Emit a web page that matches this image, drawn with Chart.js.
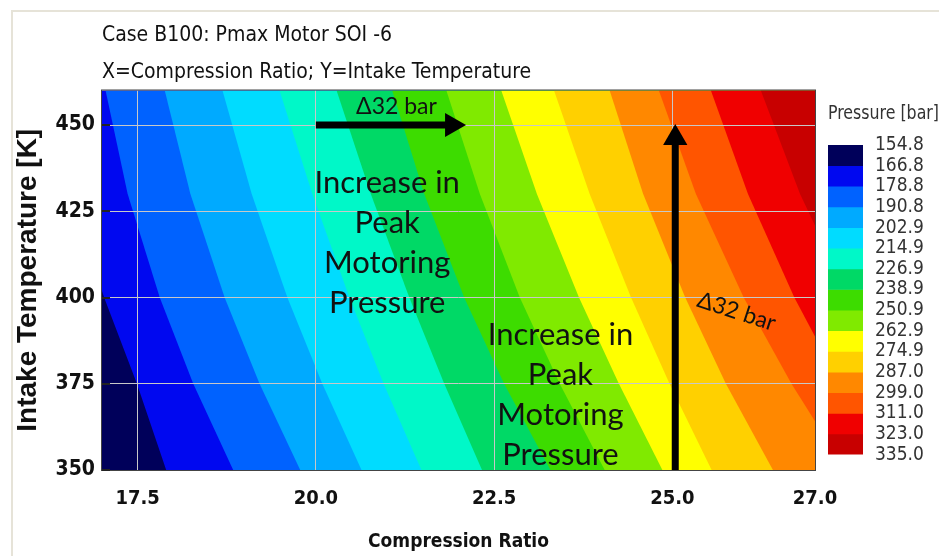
<!DOCTYPE html>
<html>
<head>
<meta charset="utf-8">
<script src="https://cdn.jsdelivr.net/npm/chart.js@4.4.1/dist/chart.umd.min.js"></script>
<style>
  html, body { margin: 0; padding: 0; background: #fff; }
  #wrap { position: relative; width: 939px; height: 556px; overflow: hidden; }
  #frame { position: absolute; left: 11px; top: 10px; right: 0; bottom: 0;
           border-left: 2px solid #e6e3d8; border-top: 2px solid #e6e3d8; }
  #main { position: absolute; left: 0; top: 0; }
  #bar { position: absolute; left: 820px; top: 90px; }
</style>
</head>
<body>
<div id="wrap">
  <div id="frame"></div>
  <canvas id="main" width="939" height="556"></canvas>
  <canvas id="bar" width="119" height="380"></canvas>
</div>
<script>
// contour levels of the colour bar
var pressureLevels = [154.8, 166.8, 178.8, 190.8, 202.9, 214.9, 226.9, 238.9, 250.9,
                      262.9, 274.9, 287.0, 299.0, 311.0, 323.0, 335.0];
var pressureColors = ['#00005a', '#0008f0', '#0062ff', '#00aaff', '#00dcff', '#00f8c8',
                      '#00d966', '#3ddc00', '#80ea00', '#ffff00', '#ffd000', '#ff8800',
                      '#ff5500', '#f00000', '#c80000'];

// intake temperatures where the contour lines were read
var tempLevels = [460, 430, 400, 375, 350];
// compression ratio of each contour line (levels 166.8 ... 323.0) at those temperatures
var contourX = [
  [16.10, 16.55, 17.03, 17.49, 17.90],
  [17.05, 17.36, 17.81, 18.28, 18.84],
  [17.88, 18.24, 18.72, 19.21, 19.78],
  [18.69, 19.10, 19.60, 20.09, 20.64],
  [19.49, 19.95, 20.47, 20.95, 21.48],
  [20.29, 20.77, 21.31, 21.80, 22.33],
  [21.07, 21.52, 22.08, 22.64, 23.29],
  [21.83, 22.30, 22.86, 23.42, 24.05],
  [22.60, 23.10, 23.69, 24.25, 24.86],
  [23.34, 23.84, 24.42, 24.96, 25.55],
  [24.12, 24.59, 25.18, 25.75, 26.41],
  [24.81, 25.33, 26.00, 26.67, 27.43],
  [25.54, 26.06, 26.71, 27.35, 28.08],
  [26.24, 26.79, 27.48, 28.14, 28.90]
];

var xTicks = [17.5, 20.0, 22.5, 25.0, 27.0];
var yTicks = [350, 375, 400, 425, 450];

// arrows and notes drawn over the map
var arrowH = [{x: 20.0, y: 450}, {x: 21.91, y: 450}];
var arrowV = [{x: 25.04, y: 350}, {x: 25.04, y: 446.2}];
var notes = [
  {lines: ['Increase in', 'Peak', 'Motoring', 'Pressure'], x: 21.0, y: 433.2, size: 31, rot: 0},
  {lines: ['Increase in', 'Peak', 'Motoring', 'Pressure'], x: 23.43, y: 389.0, size: 31, rot: 0},
  {lines: ['\u039432 bar'], x: 21.13, y: 455.2, size: 23, rot: 0},
  {lines: ['\u039432 bar'], x: 25.90, y: 395.9, size: 23, rot: 18}
];

var narrow = "'Liberation Sans Narrow', 'DejaVu Sans Condensed', 'Liberation Sans', sans-serif";

// one filled shape per band: everything right of the band's lower contour,
// painted from the lowest band up so later bands cover earlier ones
var bandSets = [];
for (var k = pressureColors.length - 1; k >= 0; k--) {
  var pts;
  if (k === 0) {
    pts = [{x: 15, y: 460}, {x: 15, y: 350}];
  } else {
    pts = tempLevels.map(function (t, i) { return {x: contourX[k - 1][i], y: t}; });
  }
  pts.push({x: 31, y: 350}, {x: 31, y: 460});
  bandSets.push({
    data: pts, fill: 'shape', backgroundColor: pressureColors[k],
    borderWidth: 0, pointRadius: 0, tension: 0
  });
}

var arrowSets = [arrowH, arrowV].map(function (d, i) {
  return {
    data: d, fill: false, borderColor: '#000', borderWidth: 7, borderCapStyle: 'butt',
    pointRadius: [0, 14], pointStyle: 'triangle', pointRotation: i === 0 ? 90 : 0,
    pointBackgroundColor: '#000', pointBorderWidth: 0, tension: 0
  };
});

var notesPlugin = {
  id: 'notes',
  afterDraw: function (c) {
    var ctx = c.ctx, xs = c.scales.x, ys = c.scales.y;
    notes.forEach(function (n) {
      ctx.save();
      ctx.translate(xs.getPixelForValue(n.x), ys.getPixelForValue(n.y));
      ctx.rotate(n.rot * Math.PI / 180);
      ctx.font = n.size + 'px Lato, sans-serif';
      ctx.fillStyle = '#111';
      ctx.textAlign = 'center';
      ctx.textBaseline = 'middle';
      n.lines.forEach(function (l, i) { ctx.fillText(l, 0, i * 40); });
      ctx.restore();
    });
  }
};

// plot outline plus the short inward tick marks on the left edge
var frameBox = {
  id: 'frameBox',
  afterDraw: function (c) {
    var a = c.chartArea, ctx = c.ctx, ys = c.scales.y;
    ctx.save();
    ctx.strokeStyle = '#444';
    ctx.lineWidth = 1;
    ctx.strokeRect(a.left - 0.5, a.top - 0.5, a.right - a.left + 1, a.bottom - a.top + 1);
    ctx.lineWidth = 2;
    ctx.strokeStyle = '#222';
    yTicks.forEach(function (v) {
      var py = Math.round(ys.getPixelForValue(v));
      ctx.beginPath();
      ctx.moveTo(a.left, py);
      ctx.lineTo(a.left + 8, py);
      ctx.stroke();
    });
    ctx.restore();
  }
};

var mainChart = new Chart('main', {
  type: 'line',
  data: { datasets: arrowSets.concat(bandSets) },
  options: {
    responsive: false,
    animation: false,
    events: [],
    layout: { padding: { left: 0, right: 124, top: 0, bottom: 0 } },
    scales: {
      x: {
        type: 'linear', min: 17, max: 27,
        afterBuildTicks: function (a) { a.ticks = xTicks.map(function (v) { return {value: v}; }); },
        afterFit: function (s) { s.height = 86; },
        ticks: {
          autoSkip: false, maxRotation: 0, padding: 17, color: '#111',
          font: { family: narrow, size: 20, weight: 'bold' },
          callback: function (v) { return v.toFixed(1); }
        },
        grid: { color: '#c8c8c8', drawTicks: false },
        border: { display: false },
        title: {
          display: true, text: 'Compression Ratio', color: '#111',
          font: { family: narrow, size: 19, weight: 'bold' },
          padding: { top: 0, bottom: 3 }
        }
      },
      y: {
        type: 'linear', min: 350, max: 460,
        afterBuildTicks: function (a) { a.ticks = yTicks.map(function (v) { return {value: v}; }); },
        afterFit: function (s) { s.width = 102; },
        ticks: {
          autoSkip: false, padding: 7, color: '#111',
          font: { family: narrow, size: 21, weight: 'bold' }
        },
        grid: { color: '#c8c8c8', drawTicks: false },
        border: { display: false },
        title: {
          display: true, text: 'Intake Temperature [K]', color: '#111',
          font: { family: "'Liberation Sans', Arial, sans-serif", size: 28, weight: 'bold' },
          padding: { top: 11, bottom: 0 }
        }
      }
    },
    plugins: {
      legend: { display: false },
      tooltip: { enabled: false },
      filler: { drawTime: 'beforeDraw' },
      title: {
        display: true, align: 'start', fullSize: false, color: '#111',
        text: ['Case B100: Pmax Motor SOI -6', 'X=Compression Ratio; Y=Intake Temperature'],
        font: { family: narrow, size: 21, lineHeight: 1.75, weight: 'normal' },
        padding: { top: 17, bottom: 0 }
      }
    }
  },
  plugins: [notesPlugin, frameBox]
});

var barChart = new Chart('bar', {
  type: 'bar',
  data: {
    labels: ['p'],
    datasets: pressureColors.map(function (c, i) {
      return {
        data: [[pressureLevels[i], pressureLevels[i + 1]]], backgroundColor: c,
        borderWidth: 0, categoryPercentage: 1, barPercentage: 1
      };
    })
  },
  options: {
    responsive: false,
    animation: false,
    events: [],
    layout: { padding: { left: 8, right: 0, top: 0, bottom: 13 } },
    scales: {
      x: { display: false, stacked: true },
      y: {
        position: 'right', min: 154.8, max: 335, reverse: true,
        afterBuildTicks: function (a) { a.ticks = pressureLevels.map(function (v) { return {value: v}; }); },
        afterFit: function (s) { s.width = 76; },
        ticks: {
          autoSkip: false, padding: 4, color: '#333',
          font: { family: narrow, size: 19 },
          callback: function (v) { return v.toFixed(1); }
        },
        grid: { display: false },
        border: { display: false }
      }
    },
    plugins: {
      legend: { display: false },
      tooltip: { enabled: false },
      title: {
        display: true, align: 'start', text: 'Pressure [bar]', color: '#333',
        font: { family: narrow, size: 20, weight: 'normal' },
        padding: { top: 12, bottom: 19 }
      }
    }
  }
});
</script>
</body>
</html>
